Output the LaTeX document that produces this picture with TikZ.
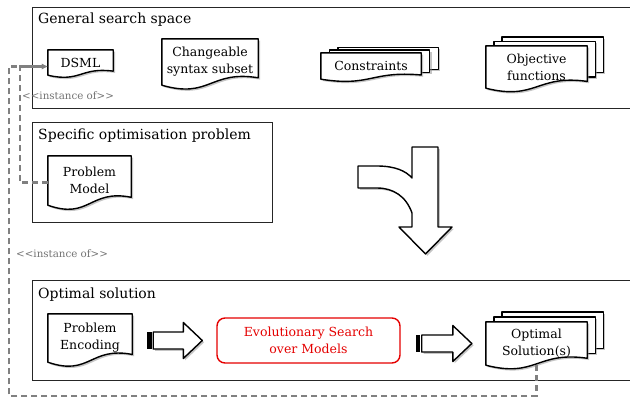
\documentclass[tikz,border=0pt]{standalone}
\usepackage{fontspec}
\setmainfont{DejaVu Serif}
\newfontfamily\lblfont{DejaVu Serif}
\usetikzlibrary{calc,positioning,arrows.meta,backgrounds}

% document shape (wavy bottom) drawn round a named node
\newcommand\docshape[1]{%
  \path[docline,shade] let \p1=(#1.north west), \p2=(#1.south east),
      \n1={\x2-\x1}, \n2={\y1-\y2} in
    (\x1,\y1) -- (\x2,\y1) -- (\x2,{\y2+0.16*\n2})
    .. controls ({\x1+0.5*\n1},{\y2+0.33*\n2}) and ({\x1+0.5*\n1},{\y2-0.3*\n2})
    .. (\x1,\y2) -- cycle;}
% several documents stacked: node, x step, y step
\newcommand\docstack[3]{%
  \foreach \k in {2,1}{
    \path[docline,shade] let \p1=(#1.north west), \p2=(#1.south east),
        \n2={\y1-\y2} in
      ({\x1+\k*#2},{\y1+\k*#3}) rectangle ({\x2+\k*#2},{\y2+0.16*\n2+\k*#3});
  }
  \docshape{#1}}
% fat arrow with a striped tail between two named nodes
\newcommand\fatarrow[2]{%
  \fill[black] let \p1=(#1.east), \p2=(#2.west) in
    (\x1+15pt,\y2-8.5pt) rectangle (\x1+19.5pt,\y2+8.5pt);
  \path[docline,shade] let \p1=(#1.east), \p2=(#2.west) in
    (\x1+21pt,\y2+8.5pt) -- (\x2-33pt,\y2+8.5pt) -- (\x2-33pt,\y2+18pt)
    -- (\x2-14pt,\y2) -- (\x2-33pt,\y2-18pt) -- (\x2-33pt,\y2-8.5pt)
    -- (\x1+21pt,\y2-8.5pt) -- cycle;}

\begin{document}
\begin{tikzpicture}[x=1pt,y=-1pt]
\tikzset{
    % boxes of the three levels
    area/.style={draw=black!85, line width=1.4pt, minimum width=620pt,
           anchor=north west, inner sep=0pt},
    areatitle/.style={anchor=west, inner sep=0pt,
           font=\fontsize{14}{16}\selectfont},
    % text inside documents
    doc/.style={align=center, inner sep=0pt,
           font=\fontsize{12.5}{17}\selectfont},
    docline/.style={draw=black, line width=1.4pt, fill=white,
           line join=round},
    shade/.style={preaction={fill=black!45, opacity=.5,
           transform canvas={xshift=1.8pt,yshift=-1.8pt}}},
    % the search step
    search/.style={draw=red!90!black, line width=1.4pt, fill=white,
           rounded corners=8pt, text=red!90!black, align=center,
           minimum width=183pt, minimum height=45pt,
           font=\fontsize{12.5}{17}\selectfont},
    % instance-of links
    instof/.style={draw=black!50, line width=2.2pt, dash pattern=on 6pt off 4pt,
           -{Latex[length=6pt,width=6pt]}},
    instlbl/.style={text=black!55, anchor=west, inner sep=0pt,
           font=\lblfont\fontsize{10.3}{12}\selectfont}
}
\useasboundingbox (0,0) rectangle (630,397);

 %levels
 \node[area, minimum height=101pt] (space) at (32,7) {};
 \node[area, minimum height=100pt, minimum width=240pt] (problem) at (32,122) {};
 \node[area, minimum height=100pt] (solution) at (32,280) {};
 \node[areatitle] (spacetitle) at ($(space.north west)+(6,13)$) {General search space};
 \node[areatitle] (problemtitle) at ($(problem.north west)+(6,14)$) {Specific optimisation problem};
 \node[areatitle] (solutiontitle) at ($(solution.north west)+(6,15)$) {Optimal solution};

 %documents
 \node[doc, minimum width=65pt, minimum height=25pt] (dsml) at (80.5,62.5) {DSML};
 \node[doc, minimum width=96pt, minimum height=46pt] (syntax) at (210,62) {Changeable\\syntax subset};
 \node[doc, minimum width=100pt, minimum height=26pt] (constr) at (371,66) {Constraints};
 \node[doc, minimum width=101pt, minimum height=42pt] (objfun) at (536.5,67) {Objective\\functions};
 \node[doc, minimum width=83pt, minimum height=49pt] (pmodel) at (89.5,180.5) {Problem\\Model};
 \node[doc, minimum width=84pt, minimum height=48pt] (pencode) at (90,338) {Problem\\Encoding};
 \node[search] (evol) at (308.5,340.5) {Evolutionary Search\\over Models};
 \node[doc, minimum width=101pt, minimum height=43pt] (optsol) at (536.5,343.5) {Optimal\\Solution(s)};

 \begin{pgfonlayer}{background}
 \docshape{dsml}
 \docshape{syntax}
 \docstack{constr}{8.5}{2.7}
 \docstack{objfun}{8}{4.5}
 \docshape{pmodel}
 \docshape{pencode}
 \docstack{optsol}{8}{5}
 \end{pgfonlayer}

 % problem leads into the solution
 \path[docline,shade] (358,166) -- (377,166) .. controls (395,166) and (406,171) .. (412,178)
   -- (412,147) -- (438,147) -- (438,227) -- (452,227) -- (425.5,254) -- (399,227)
   -- (412,227) -- (412,213) .. controls (406,196) and (393,188) .. (377,188)
   -- (358,188) -- cycle;

 \fatarrow{pencode}{evol}
 \fatarrow{evol}{optsol}

 % instance-of links
 \coordinate (loopcorner) at (9,396);
 \draw[instof] ($(pmodel.west)+(0,2)$) -- ++(-28,0) |- ($(dsml.west)+(0,4)$);
 \draw[instof] (optsol.south) |- (loopcorner) |- ($(dsml.west)+(0,4)$);
 \node[instlbl] (inst1) at (22,96) {<<instance of>>};
 \node[instlbl] (inst2) at (16,254) {<<instance of>>};
\end{tikzpicture}
\end{document}
